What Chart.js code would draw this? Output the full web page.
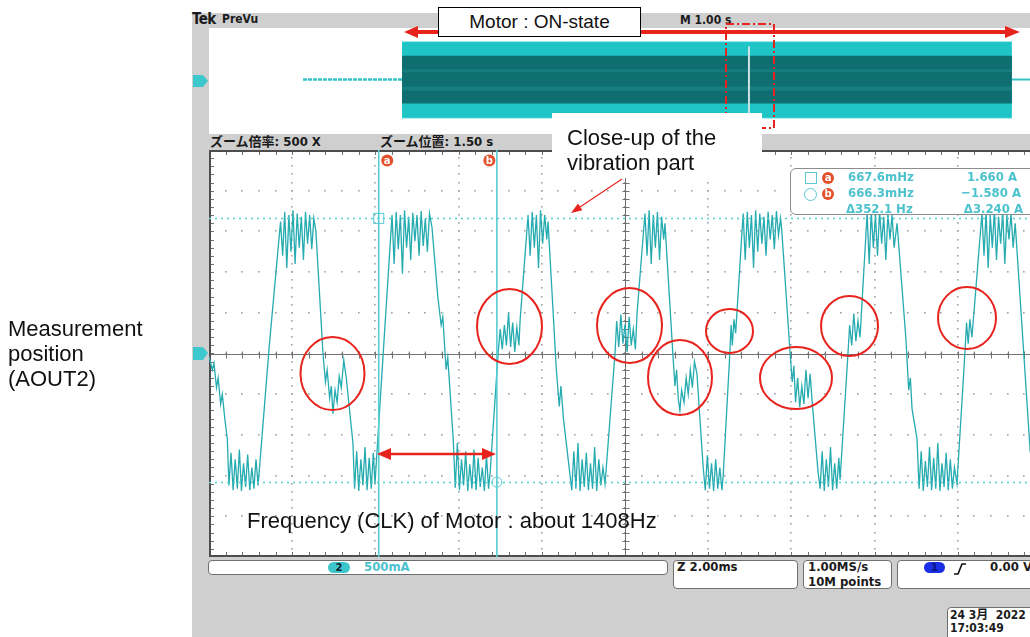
<!DOCTYPE html>
<html lang="ja">
<head>
<meta charset="utf-8">
<title>Motor current at AOUT2</title>
<script src="https://cdn.jsdelivr.net/npm/chart.js@4.4.1/dist/chart.umd.min.js"></script>
<style>
  body { margin: 0; width: 1030px; height: 637px; overflow: hidden; background: #fff; position: relative;
         font-family: "Liberation Sans", Arial, sans-serif; }
  .abs { position: absolute; }
  #scope { left: 192px; top: 13px; width: 860px; height: 640px; background: #cfcfcf; }
  #preview, #main { background: #fff; }
  #preview { left: 209px; top: 28px; }
  #main { left: 209px; top: 150px; }
  .tek { font-family: "DejaVu Sans Condensed", "DejaVu Sans", "Noto Sans CJK JP", sans-serif; font-weight: bold;
         font-size: 13px; line-height: 16px; color: #1b1b1b; white-space: nowrap; }
  .cy { color: #4cc2ce; }
  .box { box-sizing: border-box; border: 1px solid #6f6f6f; border-radius: 4px; background: #fff; }
  .badge { width: 12px; height: 12px; border-radius: 50%; background: #e2502c; color: #fff; font: bold 10px/12px "DejaVu Sans", sans-serif; text-align: center; }
  .note { font-size: 22px; line-height: 25px; color: #111; white-space: nowrap; }
</style>
</head>
<body>

<div id="scope" class="abs"></div>
<div class="abs tek" style="left:192px;top:11px;font-size:15px;letter-spacing:-0.5px">Tek</div>
<div class="abs tek" style="left:222px;top:11px;font-size:12px">PreVu</div>
<div class="abs tek" style="left:680px;top:12px;font-size:12px">M 1.00 s</div>
<canvas id="preview" class="abs" width="832" height="106"></canvas>
<div class="abs tek" style="left:210px;top:134px">ズーム倍率: 500 X</div>
<div class="abs tek" style="left:380px;top:134px">ズーム位置: 1.50 s</div>
<canvas id="main" class="abs" width="832" height="407"></canvas>

<!-- cursor readout -->
<div class="abs box" style="left:790px;top:168px;width:260px;height:47px;border:1.5px solid #8c8c8c;border-radius:6px"></div>
<div class="abs" style="left:805px;top:172px;width:10px;height:10px;border:1px solid #5cc8d2"></div>
<div class="abs" style="left:804px;top:188px;width:11px;height:11px;border:1px solid #5cc8d2;border-radius:50%"></div>
<div class="abs badge" style="left:822px;top:172px">a</div>
<div class="abs badge" style="left:822px;top:188px">b</div>
<div class="abs tek cy" style="left:848px;top:169px">667.6mHz</div>
<div class="abs tek cy" style="left:848px;top:185px">666.3mHz</div>
<div class="abs tek cy" style="left:846px;top:201px">Δ352.1 Hz</div>
<div class="abs tek cy" style="right:13px;top:169px">1.660 A</div>
<div class="abs tek cy" style="right:9px;top:185px">−1.580 A</div>
<div class="abs tek cy" style="right:7px;top:201px">Δ3.240 A</div>

<!-- status bar -->
<div class="abs box" style="left:208px;top:560px;width:460px;height:15px"></div>
<div class="abs" style="left:328px;top:562px;width:22px;height:11px;border-radius:6px;background:#3cc6cb;color:#123;font:bold 10px/11px 'DejaVu Sans',sans-serif;text-align:center">2</div>
<div class="abs tek cy" style="left:364px;top:559px">500mA</div>
<div class="abs box" style="left:673px;top:560px;width:125px;height:29px"></div>
<div class="abs tek" style="left:677px;top:559px">Z 2.00ms</div>
<div class="abs box" style="left:803px;top:560px;width:89px;height:29px"></div>
<div class="abs tek" style="left:808px;top:559px">1.00MS/s</div>
<div class="abs tek" style="left:808px;top:574px">10M points</div>
<div class="abs box" style="left:897px;top:560px;width:160px;height:29px"></div>
<div class="abs" style="left:924px;top:562px;width:21px;height:11px;border-radius:6px;background:#1a30e6;color:#0a1470;font:bold 10px/11px 'DejaVu Sans',sans-serif;text-align:center">1</div>
<div class="abs tek" style="left:990px;top:559px">0.00 V</div>
<div class="abs box" style="left:947px;top:607px;width:100px;height:40px"></div>
<div class="abs tek" style="left:950px;top:609px;font-size:12px;line-height:13px">24 3月&nbsp;&nbsp;2022</div>
<div class="abs tek" style="left:950px;top:622px;font-size:12px;line-height:13px">17:03:49</div>

<!-- annotations behind the text boxes -->
<svg class="abs" style="left:0;top:0" width="1030" height="637">
  <rect x="726" y="24" width="48" height="104" fill="none" stroke="#e8231d" stroke-width="2" stroke-dasharray="8 3 2 3"/>
  <polygon points="193,75 203,75 208,81 203,87 193,87" fill="#3cc8cc"/>
  <polygon points="193,347 203,347 208,353 203,360 193,360" fill="#3cc8cc"/>
  <path d="M954 574 L958 574 L962 564 L966 564" fill="none" stroke="#111" stroke-width="1.6"/>
</svg>

<div class="abs" style="left:552px;top:113px;width:210px;height:65px;background:#fff"></div>
<div class="abs note" style="left:567px;top:125px">Close-up of the<br>vibration part</div>
<div class="abs" style="left:438px;top:7px;width:203px;height:30px;box-sizing:border-box;border:1px solid #000;background:#fff;font-size:19px;line-height:28px;text-align:center;color:#111">Motor : ON-state</div>

<!-- red annotations -->
<svg class="abs" style="left:0;top:0" width="1030" height="637">
  <g fill="none" stroke="#e8231d" stroke-width="2">
    <ellipse cx="332.5" cy="373.5" rx="32" ry="36.5"/>
    <ellipse cx="509.5" cy="326.5" rx="32.5" ry="37.5"/>
    <ellipse cx="629.5" cy="325.5" rx="32.5" ry="37.5"/>
    <ellipse cx="680" cy="377.5" rx="32" ry="37.5"/>
    <ellipse cx="729.5" cy="331" rx="23.5" ry="22"/>
    <ellipse cx="796" cy="378" rx="36" ry="31"/>
    <ellipse cx="849.5" cy="326" rx="28.5" ry="30"/>
    <ellipse cx="967" cy="318" rx="29" ry="31"/>
  </g>
  <g stroke="#e8231d" fill="#e8231d">
    <line x1="416" y1="32" x2="438" y2="32" stroke-width="4"/>
    <polygon points="404,32 418,26 418,38" stroke="none"/>
    <line x1="641" y1="32" x2="1006" y2="32" stroke-width="4"/>
    <polygon points="1020,32 1005,26 1005,38" stroke="none"/>
    <line x1="389" y1="454" x2="484" y2="454" stroke-width="2.5"/>
    <polygon points="377,454 391,448 391,460" stroke="none"/>
    <polygon points="496,454 482,448 482,460" stroke="none"/>
    <line x1="622" y1="179" x2="580" y2="207" stroke-width="1.2"/>
    <polygon points="571,213 578,203.6 582.4,210.2" stroke="none"/>
  </g>
</svg>

<div class="abs note" style="left:8px;top:316px">Measurement<br>position<br>(AOUT2)</div>
<div class="abs note" style="left:247px;top:508px">Frequency (CLK) of Motor : about 1408Hz</div>

<script>
// zoomed trace: time in ms (Z 2.00 ms/div), current in A (500 mA/div)
const cycle1 = [
  [0, -0.04], [0.08, -0.2], [0.12, -0.12], [0.18, -0.42], [0.22, -0.3], [0.28, -0.62], [0.32, -0.5], [0.38, -0.8], [0.44, -1.05],
  [0.48, -1.62], [0.53, -1.22], [0.58, -1.68], [0.63, -1.3], [0.68, -1.66], [0.73, -1.18], [0.78, -1.69], [0.83, -1.35],
  [0.88, -1.64], [0.93, -1.24], [0.98, -1.68], [1.03, -1.4], [1.08, -1.66], [1.13, -1.3], [1.18, -1.62],
  [1.45, 0.1], [1.72, 1.62],
  [1.77, 1.2], [1.82, 1.74], [1.87, 1.05], [1.92, 1.7], [1.97, 1.25], [2.02, 1.76], [2.07, 1.1], [2.12, 1.72], [2.17, 1.3],
  [2.22, 1.68], [2.27, 1.15], [2.32, 1.74], [2.37, 1.35], [2.42, 1.7], [2.47, 1.28], [2.52, 1.66], [2.57, 1.5],
  [2.74, 0], [2.8, -0.35], [2.84, -0.2], [2.9, -0.55], [2.94, -0.4], [2.98, -0.74], [3.03, -0.45], [3.08, -0.6],
  [3.13, -0.28], [3.18, -0.42], [3.24, -0.08], [3.3, -0.3], [3.46, -1.1],
  [3.5, -1.66], [3.55, -1.2], [3.6, -1.69], [3.65, -1.3], [3.7, -1.62], [3.75, -1.15], [3.8, -1.68], [3.85, -1.28],
  [3.9, -1.66], [3.95, -1.22], [3.99, -1.6],
  [4.2, 0.1], [4.4, 1.7]
];
const cycle2 = [
  [4.45, 1.1], [4.5, 1.74], [4.55, 1.28], [4.6, 1.7], [4.65, 0.98], [4.7, 1.76], [4.75, 1.3], [4.8, 1.68], [4.85, 1.15],
  [4.9, 1.73], [4.95, 1.38], [5.0, 1.7], [5.05, 1.2], [5.1, 1.75], [5.15, 1.32], [5.2, 1.66], [5.25, 1.25], [5.3, 1.72], [5.36, 1.55],
  [5.5, 0.7], [5.58, 0.35], [5.62, 0.45], [5.7, -0.2], [5.74, -0.05], [5.87, -1.05],
  [5.92, -1.65], [5.97, -1.1], [6.02, -1.68], [6.07, -1.3], [6.12, -1.62], [6.17, -1.2], [6.22, -1.69], [6.27, -1.36],
  [6.32, -1.66], [6.37, -1.18], [6.42, -1.68], [6.47, -1.28], [6.52, -1.64], [6.57, -1.4], [6.62, -1.69], [6.67, -1.25],
  [6.72, -1.66], [6.76, -1.45],
  [6.95, 0], [7.0, 0.3], [7.05, 0.05], [7.1, 0.35], [7.15, 0.1], [7.2, 0.5], [7.25, 0.08], [7.3, 0.38], [7.35, 0.02],
  [7.4, 0.32], [7.45, 0.1], [7.48, 0.42],
  [7.67, 1.7], [7.72, 1.2], [7.77, 1.74], [7.82, 1.3], [7.87, 1.7], [7.92, 1.05], [7.97, 1.76], [8.02, 1.35], [8.07, 1.7],
  [8.12, 1.4], [8.15, 1.62],
  [8.35, -0.2], [8.42, -0.65], [8.46, -0.4], [8.52, -0.8], [8.68, -1.5],
  [8.72, -1.68], [8.77, -1.2], [8.82, -1.66], [8.87, -1.1], [8.92, -1.69], [8.97, -1.3], [9.02, -1.64], [9.07, -1.22],
  [9.12, -1.68], [9.17, -1.35], [9.22, -1.66], [9.27, -1.15], [9.32, -1.69], [9.37, -1.3], [9.42, -1.62], [9.47, -1.4], [9.52, -1.6],
  [9.76, 0]
];
const cycle3 = [
  [9.8, 0.4], [9.85, 0.08], [9.9, 0.48], [9.95, 0.12], [10.0, 0.36], [10.05, 0.02], [10.1, 0.45], [10.15, 0.1], [10.2, 0.3],
  [10.25, 0.05], [10.29, 0.5],
  [10.48, 1.72], [10.53, 1.2], [10.58, 1.76], [10.63, 1.1], [10.68, 1.7], [10.73, 1.3], [10.78, 1.74], [10.83, 1.15],
  [10.88, 1.68], [10.93, 1.4], [10.96, 1.6],
  [11.15, 0], [11.2, -0.4], [11.24, -0.2], [11.28, -0.55], [11.32, -0.7], [11.36, -0.45], [11.42, -0.6], [11.47, -0.3],
  [11.52, -0.5], [11.57, -0.2], [11.62, -0.42], [11.67, -0.1], [11.73, -0.25],
  [11.88, -1.4], [11.93, -1.68], [11.98, -1.25], [12.03, -1.66], [12.08, -1.35], [12.13, -1.69], [12.18, -1.3],
  [12.23, -1.66], [12.28, -1.4], [12.33, -1.68], [12.36, -1.5],
  [12.52, 0], [12.55, 0.35], [12.58, 0.1], [12.62, 0.42], [12.66, 0.25], [12.84, 1.72],
  [12.89, 1.15], [12.94, 1.74], [12.99, 1.3], [13.04, 1.7], [13.09, 1.05], [13.14, 1.76], [13.19, 1.25], [13.24, 1.72],
  [13.29, 1.35], [13.34, 1.68], [13.39, 1.2], [13.44, 1.74], [13.49, 1.4], [13.54, 1.7], [13.59, 1.28], [13.64, 1.75],
  [13.69, 1.45], [13.74, 1.66], [13.77, 1.5],
  [13.97, 0], [14.02, -0.35], [14.06, -0.15], [14.1, -0.6], [14.15, -0.3], [14.2, -0.66], [14.25, -0.4], [14.3, -0.62],
  [14.35, -0.2], [14.4, -0.55], [14.45, -0.25], [14.5, -0.6],
  [14.64, -1.45], [14.69, -1.66], [14.74, -1.2], [14.79, -1.69], [14.84, -1.3], [14.89, -1.64], [14.94, -1.15],
  [14.99, -1.68], [15.04, -1.35], [15.09, -1.66], [15.14, -1.28], [15.17, -1.55],
  [15.36, 0]
];
const cycle4 = [
  [15.4, 0.35], [15.45, 0.1], [15.5, 0.49], [15.55, 0.15], [15.6, 0.4], [15.65, 0.2],
  [15.82, 1.72], [15.87, 1.1], [15.92, 1.74], [15.97, 1.3], [16.02, 1.7], [16.07, 1.2], [16.12, 1.76], [16.17, 1.35],
  [16.22, 1.68], [16.27, 1.15], [16.32, 1.72], [16.37, 1.4], [16.42, 1.7], [16.47, 1.3], [16.54, 1.6],
  [16.75, 0.2], [16.82, -0.45], [16.86, -0.3], [16.9, -0.68], [17.02, -1.05],
  [17.07, -1.66], [17.12, -1.2], [17.17, -1.69], [17.22, -1.32], [17.27, -1.64], [17.32, -1.15], [17.37, -1.68],
  [17.42, -1.28], [17.47, -1.66], [17.52, -1.1], [17.57, -1.69], [17.62, -1.35], [17.67, -1.64], [17.72, -1.22],
  [17.77, -1.68], [17.82, -1.3], [17.87, -1.66], [17.92, -1.4], [17.98, -1.6],
  [18.17, 0], [18.21, 0.38], [18.25, 0.12], [18.29, 0.42], [18.34, 0.2],
  [18.58, 1.72], [18.63, 1.2], [18.68, 1.74], [18.73, 1.05], [18.78, 1.7], [18.83, 1.3], [18.88, 1.76], [18.93, 1.15],
  [18.98, 1.68], [19.03, 1.35], [19.08, 1.74], [19.13, 1.1], [19.18, 1.7], [19.23, 1.4], [19.28, 1.72], [19.33, 1.3],
  [19.38, 1.6],
  [19.74, -1.2], [19.9, -1.55]
];
const cursorTimes = [4.08, 6.92];     // ms, cursors a and b
const cursorLevels = [1.66, -1.58];   // A
const divTimes = [0, 2, 4, 6, 8, 10, 12, 14, 16, 18, 20];
const divLevels = [-2.5, -2, -1.5, -1, -0.5, 0, 0.5, 1, 1.5, 2, 2.5];

// PreVu record: time in s (M 1.00 s/div)
const motorOn = [2.32, 9.65];
const offLevel = 0.06;
const offStart = 1.13;
const recordEnd = 10.2;
const bandOuter = [1.69, -1.6];
const bandInner = [1.1, -0.98];
const bandStreaks = [0.45, -0.33];
const zoomPos = 6.49;

const xy = pts => pts.map(([x, y]) => ({ x, y }));
const trace = xy([...cycle1, ...cycle2, ...cycle3, ...cycle4]);

const graticule = {
  id: "graticule",
  beforeDatasetsDraw(chart) {
    const { ctx, chartArea: a, scales: { x, y } } = chart;
    ctx.save();
    ctx.fillStyle = "#a2a2a2";
    divTimes.forEach(t => {
      const px = Math.round(x.getPixelForValue(t));
      for (let v = -2.5; v <= 2.5001; v += 0.1) {
        ctx.fillRect(px - 1, Math.round(y.getPixelForValue(v)) - 1, 1.6, 1.6);
      }
    });
    divLevels.forEach(v => {
      const py = Math.round(y.getPixelForValue(v));
      for (let t = 0; t <= 20.001; t += 0.4) {
        ctx.fillRect(Math.round(x.getPixelForValue(t)) - 1, py - 1, 1.6, 1.6);
      }
    });
    // centre cross and edge ticks
    const cx = Math.round(x.getPixelForValue(10)) + 0.5;
    const cy = Math.round(y.getPixelForValue(0)) + 0.5;
    ctx.strokeStyle = "#727272";
    ctx.lineWidth = 1;
    ctx.beginPath();
    ctx.moveTo(a.left, cy); ctx.lineTo(a.right, cy);
    ctx.moveTo(cx, a.top); ctx.lineTo(cx, a.bottom);
    for (let t = 0; t <= 20.001; t += 0.4) {
      const px = Math.round(x.getPixelForValue(t)) + 0.5;
      ctx.moveTo(px, cy - 3); ctx.lineTo(px, cy + 4);
      ctx.moveTo(px, a.top); ctx.lineTo(px, a.top + 5);
      ctx.moveTo(px, a.bottom); ctx.lineTo(px, a.bottom - 5);
    }
    for (let v = -2.5; v <= 2.5001; v += 0.1) {
      const py = Math.round(y.getPixelForValue(v)) + 0.5;
      ctx.moveTo(cx - 3, py); ctx.lineTo(cx + 4, py);
      ctx.moveTo(a.left, py); ctx.lineTo(a.left + 5, py);
    }
    ctx.stroke();
    ctx.strokeStyle = "#4d4d4d";
    ctx.lineWidth = 2;
    ctx.beginPath();
    ctx.moveTo(a.right, a.top + 1); ctx.lineTo(a.left + 1, a.top + 1);
    ctx.lineTo(a.left + 1, a.bottom - 1); ctx.lineTo(a.right, a.bottom - 1);
    ctx.stroke();
    ctx.restore();
  }
};

const cursors = {
  id: "cursors",
  afterDatasetsDraw(chart) {
    const { ctx, chartArea: a, scales: { x, y } } = chart;
    ctx.save();
    ctx.strokeStyle = "#55cdd2";
    ctx.lineWidth = 1.5;
    ctx.setLineDash([2, 4]);
    cursorLevels.forEach(v => {
      const py = Math.round(y.getPixelForValue(v)) + 0.5;
      ctx.beginPath(); ctx.moveTo(a.left, py); ctx.lineTo(a.right, py); ctx.stroke();
    });
    ctx.setLineDash([]);
    ctx.lineWidth = 1.6;
    cursorTimes.forEach(t => {
      const px = x.getPixelForValue(t);
      ctx.beginPath(); ctx.moveTo(px, a.top); ctx.lineTo(px, a.bottom); ctx.stroke();
    });
    ctx.lineWidth = 1;
    const ax = x.getPixelForValue(cursorTimes[0]), ay = y.getPixelForValue(cursorLevels[0]);
    ctx.strokeRect(ax - 5, ay - 5, 10, 10);
    const bx = x.getPixelForValue(cursorTimes[1]), by = y.getPixelForValue(cursorLevels[1]);
    ctx.beginPath(); ctx.arc(bx, by, 5, 0, 2 * Math.PI); ctx.stroke();
    ["a", "b"].forEach((s, i) => {
      const px = x.getPixelForValue(cursorTimes[i]) + (i ? -7.5 : 8.5);
      const py = a.top + 10.5;
      ctx.fillStyle = "#e2502c";
      ctx.beginPath(); ctx.arc(px, py, 6, 0, 2 * Math.PI); ctx.fill();
      ctx.fillStyle = "#fff";
      ctx.font = "bold 10px 'DejaVu Sans'";
      ctx.textAlign = "center";
      ctx.textBaseline = "middle";
      ctx.fillText(s, px, py + 0.5);
    });
    ctx.restore();
  }
};

const common = {
  responsive: false,
  animation: false,
  events: [],
  devicePixelRatio: 1,
  layout: { padding: 0 },
  plugins: { legend: { display: false }, tooltip: { enabled: false } },
  elements: { point: { radius: 0 }, line: { tension: 0 } }
};

new Chart(document.getElementById("main"), {
  type: "line",
  data: {
    datasets: [{ data: trace, borderColor: "#25abb0", borderWidth: 1.3, fill: false }]
  },
  options: {
    ...common,
    scales: {
      x: { type: "linear", min: 0, max: 20, display: false },
      y: { min: -2.5, max: 2.5, display: false }
    }
  },
  plugins: [graticule, cursors]
});

const seg = (level, from, to) => [{ x: from, y: level }, { x: to, y: level }];

new Chart(document.getElementById("preview"), {
  type: "line",
  data: {
    datasets: [
      { data: seg(bandOuter[0], motorOn[0], motorOn[1]), fill: "+1", backgroundColor: "#1fc4c6", borderColor: "#28d0d2", borderWidth: 1, order: 6 },
      { data: seg(bandOuter[1], motorOn[0], motorOn[1]), fill: false, borderColor: "#28d0d2", borderWidth: 1, order: 6 },
      { data: seg(bandInner[0], motorOn[0], motorOn[1]), fill: "+1", backgroundColor: "#0f6e70", borderWidth: 0, order: 5 },
      { data: seg(bandInner[1], motorOn[0], motorOn[1]), fill: false, borderWidth: 0, order: 5 },
      { data: seg(bandStreaks[0], motorOn[0], motorOn[1]), borderColor: "rgba(40,160,162,0.3)", borderWidth: 3, order: 4 },
      { data: seg(bandStreaks[1], motorOn[0], motorOn[1]), borderColor: "rgba(40,160,162,0.35)", borderWidth: 4, order: 4 },
      { data: seg(offLevel, offStart, motorOn[0]), borderColor: "#36c3c6", borderWidth: 2.5, borderDash: [4, 1], order: 3 },
      { data: seg(offLevel, motorOn[1], recordEnd), borderColor: "#36c3c6", borderWidth: 2, order: 3 },
      { data: [{ x: zoomPos, y: -1.55 }, { x: zoomPos, y: 1.5 }], borderColor: "#cfe2e2", borderWidth: 2, order: 1 }
    ]
  },
  options: {
    ...common,
    scales: {
      x: { type: "linear", min: 0, max: 10, display: false },
      y: { min: -2.3, max: 2.3, display: false }
    }
  }
});
</script>
</body>
</html>
